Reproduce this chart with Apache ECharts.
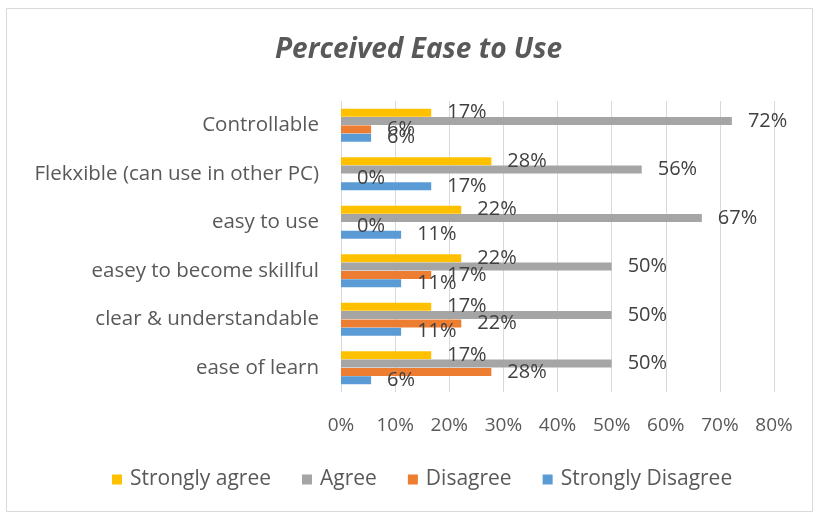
<!DOCTYPE html>
<html lang="en">
<head>
    <meta charset="UTF-8">
    <script src="https://cdn.jsdelivr.net/npm/echarts@6/dist/echarts.min.js"></script>
    <style>
        html, body { margin: 0; padding: 0; background: #fff; }
    </style>
</head>
<body>
<div style="width: 814px;height: 512px" id="chart"></div>

<script>
    // categories from bottom to top (echarts y category axis)
    var categories = ['ease of learn', 'clear & understandable', 'easey to become skillful',
        'easy to use', 'Flekxible (can use in other PC)', 'Controllable']
    var stronglyAgree = [16.67, 16.67, 22.22, 22.22, 27.78, 16.67]
    var agree = [50, 50, 50, 66.67, 55.56, 72.22]
    var disagree = [27.78, 22.22, 16.67, 0, 0, 5.56]
    var stronglyDisagree = [5.56, 11.11, 11.11, 11.11, 16.67, 5.56]
    var xTicks = [0, 10, 20, 30, 40, 50, 60, 70, 80]

    var font = '"Open Sans", Lato, sans-serif'
    var myChart = echarts.init(document.getElementById('chart'))

    function makeSeries(name, data, color) {
        return {
            name: name,
            type: 'bar',
            data: data,
            barWidth: 8,
            barGap: '4%',
            itemStyle: { color: color },
            label: {
                show: true,
                position: 'right',
                distance: 16,
                color: '#404040',
                fontFamily: font,
                fontSize: 20,
                formatter: function (p) { return Math.round(p.value) + '%' }
            }
        }
    }

    var option = {
        backgroundColor: '#fff',
        animation: false,
        title: {
            text: 'Perceived Ease to Use',
            left: 270,
            top: 31,
            textStyle: {
                fontFamily: font,
                fontSize: 28,
                fontStyle: 'italic',
                fontWeight: 'bold',
                color: '#595959'
            }
        },
        graphic: [{
            type: 'rect',
            shape: { x: 6.5, y: 8.5, width: 806, height: 503 },
            style: { fill: 'none', stroke: '#d9d9d9', lineWidth: 1 },
            silent: true
        }],
        legend: {
            bottom: 17,
            left: 107,
            itemWidth: 10,
            itemHeight: 10,
            itemGap: 31,
            icon: 'rect',
            data: ['Strongly agree', 'Agree', 'Disagree', 'Strongly Disagree'],
            textStyle: { fontFamily: font, fontSize: 21, color: '#595959', padding: [0, 0, 0, 3] }
        },
        grid: {
            left: 341,
            right: 40,
            top: 101,
            bottom: 120
        },
        xAxis: {
            type: 'value',
            min: 0,
            max: 80,
            interval: 10,
            axisLine: { show: false },
            axisTick: { show: false },
            splitLine: { lineStyle: { color: '#d9d9d9', width: 1 } },
            axisLabel: {
                margin: 24,
                fontFamily: font,
                fontSize: 19,
                color: '#595959',
                formatter: function (v) { return xTicks.indexOf(v) >= 0 ? v + '%' : '' }
            }
        },
        yAxis: {
            type: 'category',
            data: categories,
            axisLine: { show: false },
            axisTick: { show: false },
            axisLabel: {
                margin: 22,
                fontFamily: font,
                fontSize: 20.5,
                color: '#595959',
                padding: [3, 0, 0, 0]
            }
        },
        series: [
            makeSeries('Strongly agree', stronglyAgree, '#FFC000'),
            makeSeries('Agree', agree, '#A5A5A5'),
            makeSeries('Disagree', disagree, '#ED7D31'),
            makeSeries('Strongly Disagree', stronglyDisagree, '#5B9BD5')
        ]
    }

    option && myChart.setOption(option)
</script>
</body>
</html>
